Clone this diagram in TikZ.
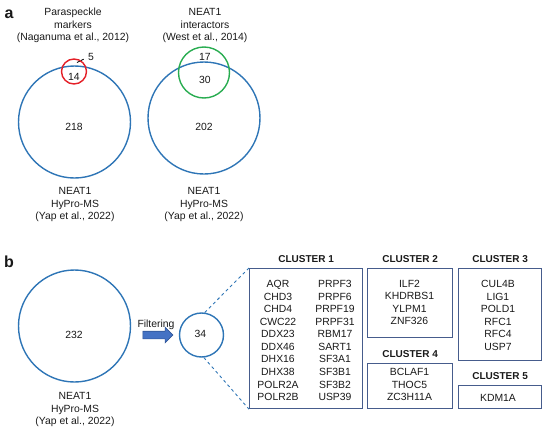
\documentclass[tikz,border=0pt]{standalone}
\usepackage{fontspec}
\setmainfont{Liberation Sans}
\usepackage{tikz}
\usetikzlibrary{arrows.meta,positioning,shapes.arrows}
\definecolor{vennblue}{RGB}{46,117,182}
\definecolor{vennred}{RGB}{228,32,40}
\definecolor{venngreen}{RGB}{40,172,80}
\definecolor{boxblue}{RGB}{70,92,140}
\definecolor{arrowblue}{RGB}{68,114,196}
\definecolor{arrowdark}{RGB}{47,85,151}
\definecolor{txt}{RGB}{25,25,25}

\begin{document}
\begin{tikzpicture}[x=1pt,y=-1pt,
  every node/.append style={text=txt,font=\fontsize{10.4}{12.5}\selectfont},
  venn/.style={draw=vennblue,circle,line width=1.4pt,inner sep=0pt,minimum size=#1},
  num/.style={inner sep=0pt},
  lbl/.style={align=center,inner sep=0pt},
  clbox/.style={draw=boxblue,line width=1.2pt,inner sep=0pt,anchor=north west},
  cltitle/.style={font=\bfseries\fontsize{10}{12}\selectfont,inner sep=0pt},
  genes/.style={align=center,inner sep=0pt,font=\fontsize{10.4}{12.56}\selectfont},
  panel/.style={font=\bfseries\fontsize{16}{16}\selectfont,inner sep=0pt}]
\useasboundingbox (0,0) rectangle (550,434);
% panel a
\node[panel] (pa) at (9,14) {a};
\node[lbl] (tpara) at (73,25.5) {Paraspeckle\\markers\\(Naganuma et al., 2012)};
\node[lbl] (twest) at (205,25.5) {NEAT1\\interactors\\(West et al., 2014)};
\node[venn=112pt] (hl) at (74.5,122) {};
\node[draw=vennred,circle,line width=1.4pt,inner sep=0pt,minimum size=25pt] (red) at (74,71.5) {};
\node[venn=112pt] (hr) at (204,118) {};
\node[draw=venngreen,circle,line width=1.4pt,inner sep=0pt,minimum size=51pt] (green) at (204,72.5) {};
\node[num] (n14) at (74,77) {14};
\node[num] (n5) at (91,57) {5};
\coordinate (p5) at (77,62.5);
\draw[line width=0.8pt,dash pattern=on 3pt off 1.5pt,shorten >=3.5pt] (p5) -- (n5.west);
\node[num] (n218) at (74,127) {218};
\node[num] (n17) at (205,57) {17};
\node[num] (n30) at (205,80) {30};
\node[num] (n202) at (204,127) {202};
\node[lbl] (hypl) at (75,204.5) {NEAT1\\HyPro-MS\\(Yap et al., 2022)};
\node[lbl] (hypr) at (204,204.5) {NEAT1\\HyPro-MS\\(Yap et al., 2022)};
% panel b
\node[panel] (pb) at (9,262) {b};
\node[venn=112pt] (hb) at (74.5,326) {};
\node[num] (n232) at (74,335) {232};
\node[lbl] (hypb) at (75,409.5) {NEAT1\\HyPro-MS\\(Yap et al., 2022)};
\node[single arrow,fill=arrowblue,draw=arrowdark,line width=0.6pt,inner sep=3.5pt,
  single arrow head extend=4pt,single arrow head indent=0pt,minimum height=30pt] (farrow) at (156,335) {};
\node[lbl,above=1.5pt of farrow] (tfilt) {Filtering};
\node[venn=44pt] (f34) at (201.5,335) {};
\node[num] (n34) at (200.5,334) {34};
% clusters
\node[clbox,minimum width=113pt,minimum height=140pt] (c1) at (249,268) {};
\node[clbox,minimum width=85pt,minimum height=69pt] (c2) at (367,268) {};
\node[clbox,minimum width=83pt,minimum height=92pt] (c3) at (458,268) {};
\node[clbox,minimum width=85pt,minimum height=45pt] (c4) at (367,363) {};
\node[clbox,minimum width=83pt,minimum height=23pt] (c5) at (458,385) {};
\foreach \c/\t in {c1/1,c2/2,c3/3,c4/4,c5/5}
  \node[cltitle,above=5pt of \c] (t\c) {CLUSTER \t};
\draw[vennblue,line width=0.9pt,dashed] (f34.82) -- (c1.north west);
\draw[vennblue,line width=0.9pt,dashed] (f34.-84) -- (c1.south west);
\node[genes] (g1a) at (278,340.5) {AQR\\CHD3\\CHD4\\CWC22\\DDX23\\DDX46\\DHX16\\DHX38\\POLR2A\\POLR2B};
\node[genes] (g1b) at (335,340.5) {PRPF3\\PRPF6\\PRPF19\\PRPF31\\RBM17\\SART1\\SF3A1\\SF3B1\\SF3B2\\USP39};
\node[genes] (g2) at (409.5,302.5) {ILF2\\KHDRBS1\\YLPM1\\ZNF326};
\node[genes] (g3) at (498,315.4) {CUL4B\\LIG1\\POLD1\\RFC1\\RFC4\\USP7};
\node[genes] (g4) at (409.5,384.5) {BCLAF1\\THOC5\\ZC3H11A};
\node[genes] (g5) at (498,398) {KDM1A};
\end{tikzpicture}
\end{document}
